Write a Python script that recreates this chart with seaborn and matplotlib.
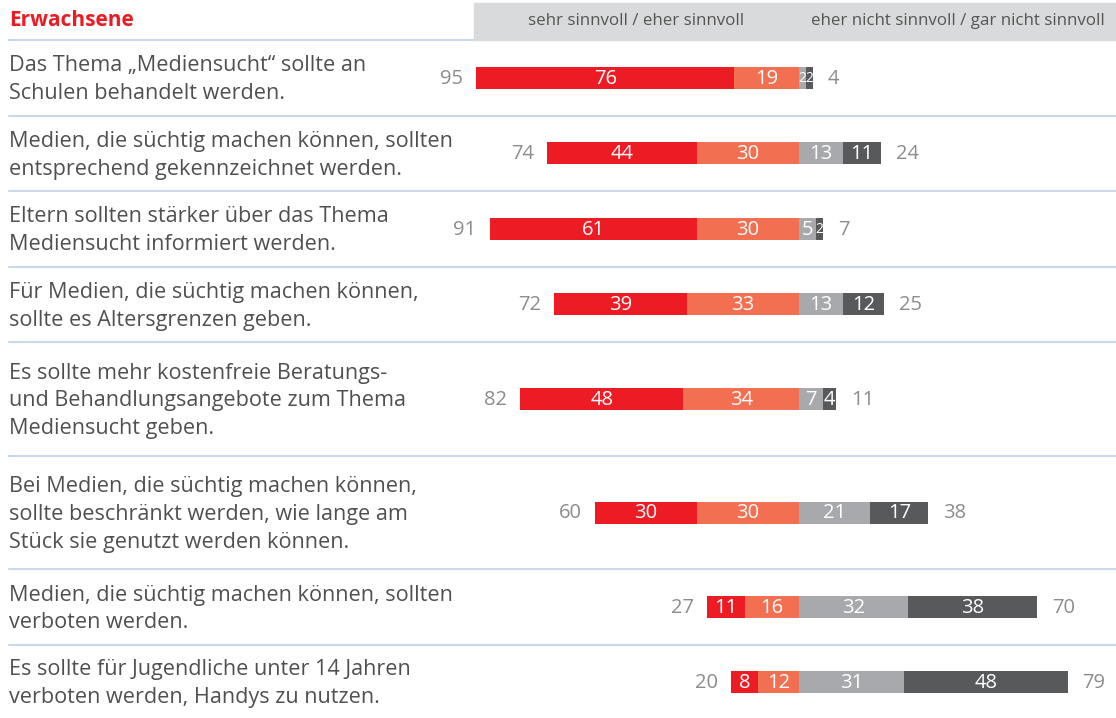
import matplotlib
matplotlib.use("Agg")
import matplotlib.pyplot as plt
from matplotlib.patches import Rectangle
from matplotlib.lines import Line2D
import seaborn as sns

# Daten: Zustimmung (links) und Ablehnung (rechts) in Prozent
aussagen = [
    "Das Thema „Mediensucht“ sollte an\nSchulen behandelt werden.",
    "Medien, die süchtig machen können, sollten\nentsprechend gekennzeichnet werden.",
    "Eltern sollten stärker über das Thema\nMediensucht informiert werden.",
    "Für Medien, die süchtig machen können,\nsollte es Altersgrenzen geben.",
    "Es sollte mehr kostenfreie Beratungs-\nund Behandlungsangebote zum Thema\nMediensucht geben.",
    "Bei Medien, die süchtig machen können,\nsollte beschränkt werden, wie lange am\nStück sie genutzt werden können.",
    "Medien, die süchtig machen können, sollten\nverboten werden.",
    "Es sollte für Jugendliche unter 14 Jahren\nverboten werden, Handys zu nutzen.",
]
sehr_sinnvoll = [76, 44, 61, 39, 48, 30, 11, 8]
eher_sinnvoll = [19, 30, 30, 33, 34, 30, 16, 12]
eher_nicht = [2, 13, 5, 13, 7, 21, 32, 31]
gar_nicht = [2, 11, 2, 12, 4, 17, 38, 48]
summe_sinnvoll = [95, 74, 91, 72, 82, 60, 27, 20]
summe_nicht = [4, 24, 7, 25, 11, 38, 70, 79]

kopf_links = "sehr sinnvoll / eher sinnvoll"
kopf_rechts = "eher nicht sinnvoll / gar nicht sinnvoll"
titel = "Erwachsene"

ROT = "#ED1C24"
LACHS = "#F26F51"
HELLGRAU = "#A7A9AC"
DUNKELGRAU = "#58595B"
TEXTGRAU = "#8C8C8C"
LINIE = "#CAD8EB"

sns.set_theme(style="white")
plt.rcParams["font.family"] = ["Open Sans", "DejaVu Sans"]

W, H = 1116, 718
fig = plt.figure(figsize=(W / 100, H / 100), dpi=100)

# Zeilengrenzen in Pixeln (von oben)
grenzen = [40, 115.5, 191, 266.5, 342, 456, 569, 645, 718]
px_pro_prozent = 3.4
mitte_px = 799
x_lim = (-mitte_px / px_pro_prozent, (W - mitte_px) / px_pro_prozent)

# Kopfzeile
fig.patches.append(Rectangle((474 / W, 1 - 40 / H), (W - 474) / W, 37 / H,
                             transform=fig.transFigure, color="#D9DADB", zorder=0))
fig.text(9 / W, 1 - 21 / H, titel, color=ROT, fontsize=15, fontweight="bold",
         va="center", ha="left")
fig.text(636 / W, 1 - 21 / H, kopf_links, color="#555555", fontsize=12.2,
         va="center", ha="center")
fig.text(958 / W, 1 - 21 / H, kopf_rechts, color="#555555", fontsize=12.2,
         va="center", ha="center")

for i, text in enumerate(aussagen):
    oben, unten = grenzen[i], grenzen[i + 1]
    hoehe = unten - oben
    ax = fig.add_axes([0, 1 - unten / H, 1, hoehe / H])

    a, b = sehr_sinnvoll[i], eher_sinnvoll[i]
    c, d = eher_nicht[i], gar_nicht[i]

    # gestapelte Balken durch Überlagerung von der Mitte aus
    for wert, farbe in [(-(a + b), ROT), (-b, LACHS), (c + d, DUNKELGRAU), (c, HELLGRAU)]:
        sns.barplot(x=[wert], y=[0], orient="h", color=farbe, saturation=1,
                    width=22, errorbar=None, ax=ax, linewidth=0)

    ax.set_xlim(*x_lim)
    ax.set_ylim(hoehe / 2, -hoehe / 2)
    ax.axis("off")

    # Trennlinie oben
    ax.add_line(Line2D([9 / W, 1], [1, 1], transform=ax.transAxes, color=LINIE,
                       lw=1.5, clip_on=False))

    ax.text(9 / W, 2, text, transform=ax.get_yaxis_transform(), ha="left",
            va="center", fontsize=15.6, color="#505050", linespacing=1.42)

    # Werte in den Segmenten
    for mitte, wert in [(-b - a / 2, a), (-b / 2, b), (c / 2, c), (c + d / 2, d)]:
        ax.text(mitte, 1, str(wert), ha="center", va="center", color="white",
                fontsize=14.5 if wert > 2 else 10)

    ax.text(-(a + b) - 13 / px_pro_prozent, 1, str(summe_sinnvoll[i]),
            ha="right", va="center", color=TEXTGRAU, fontsize=14.5)
    ax.text(c + d + 15 / px_pro_prozent, 1, str(summe_nicht[i]),
            ha="left", va="center", color=TEXTGRAU, fontsize=14.5)

fig.savefig("out.png", dpi=100)
